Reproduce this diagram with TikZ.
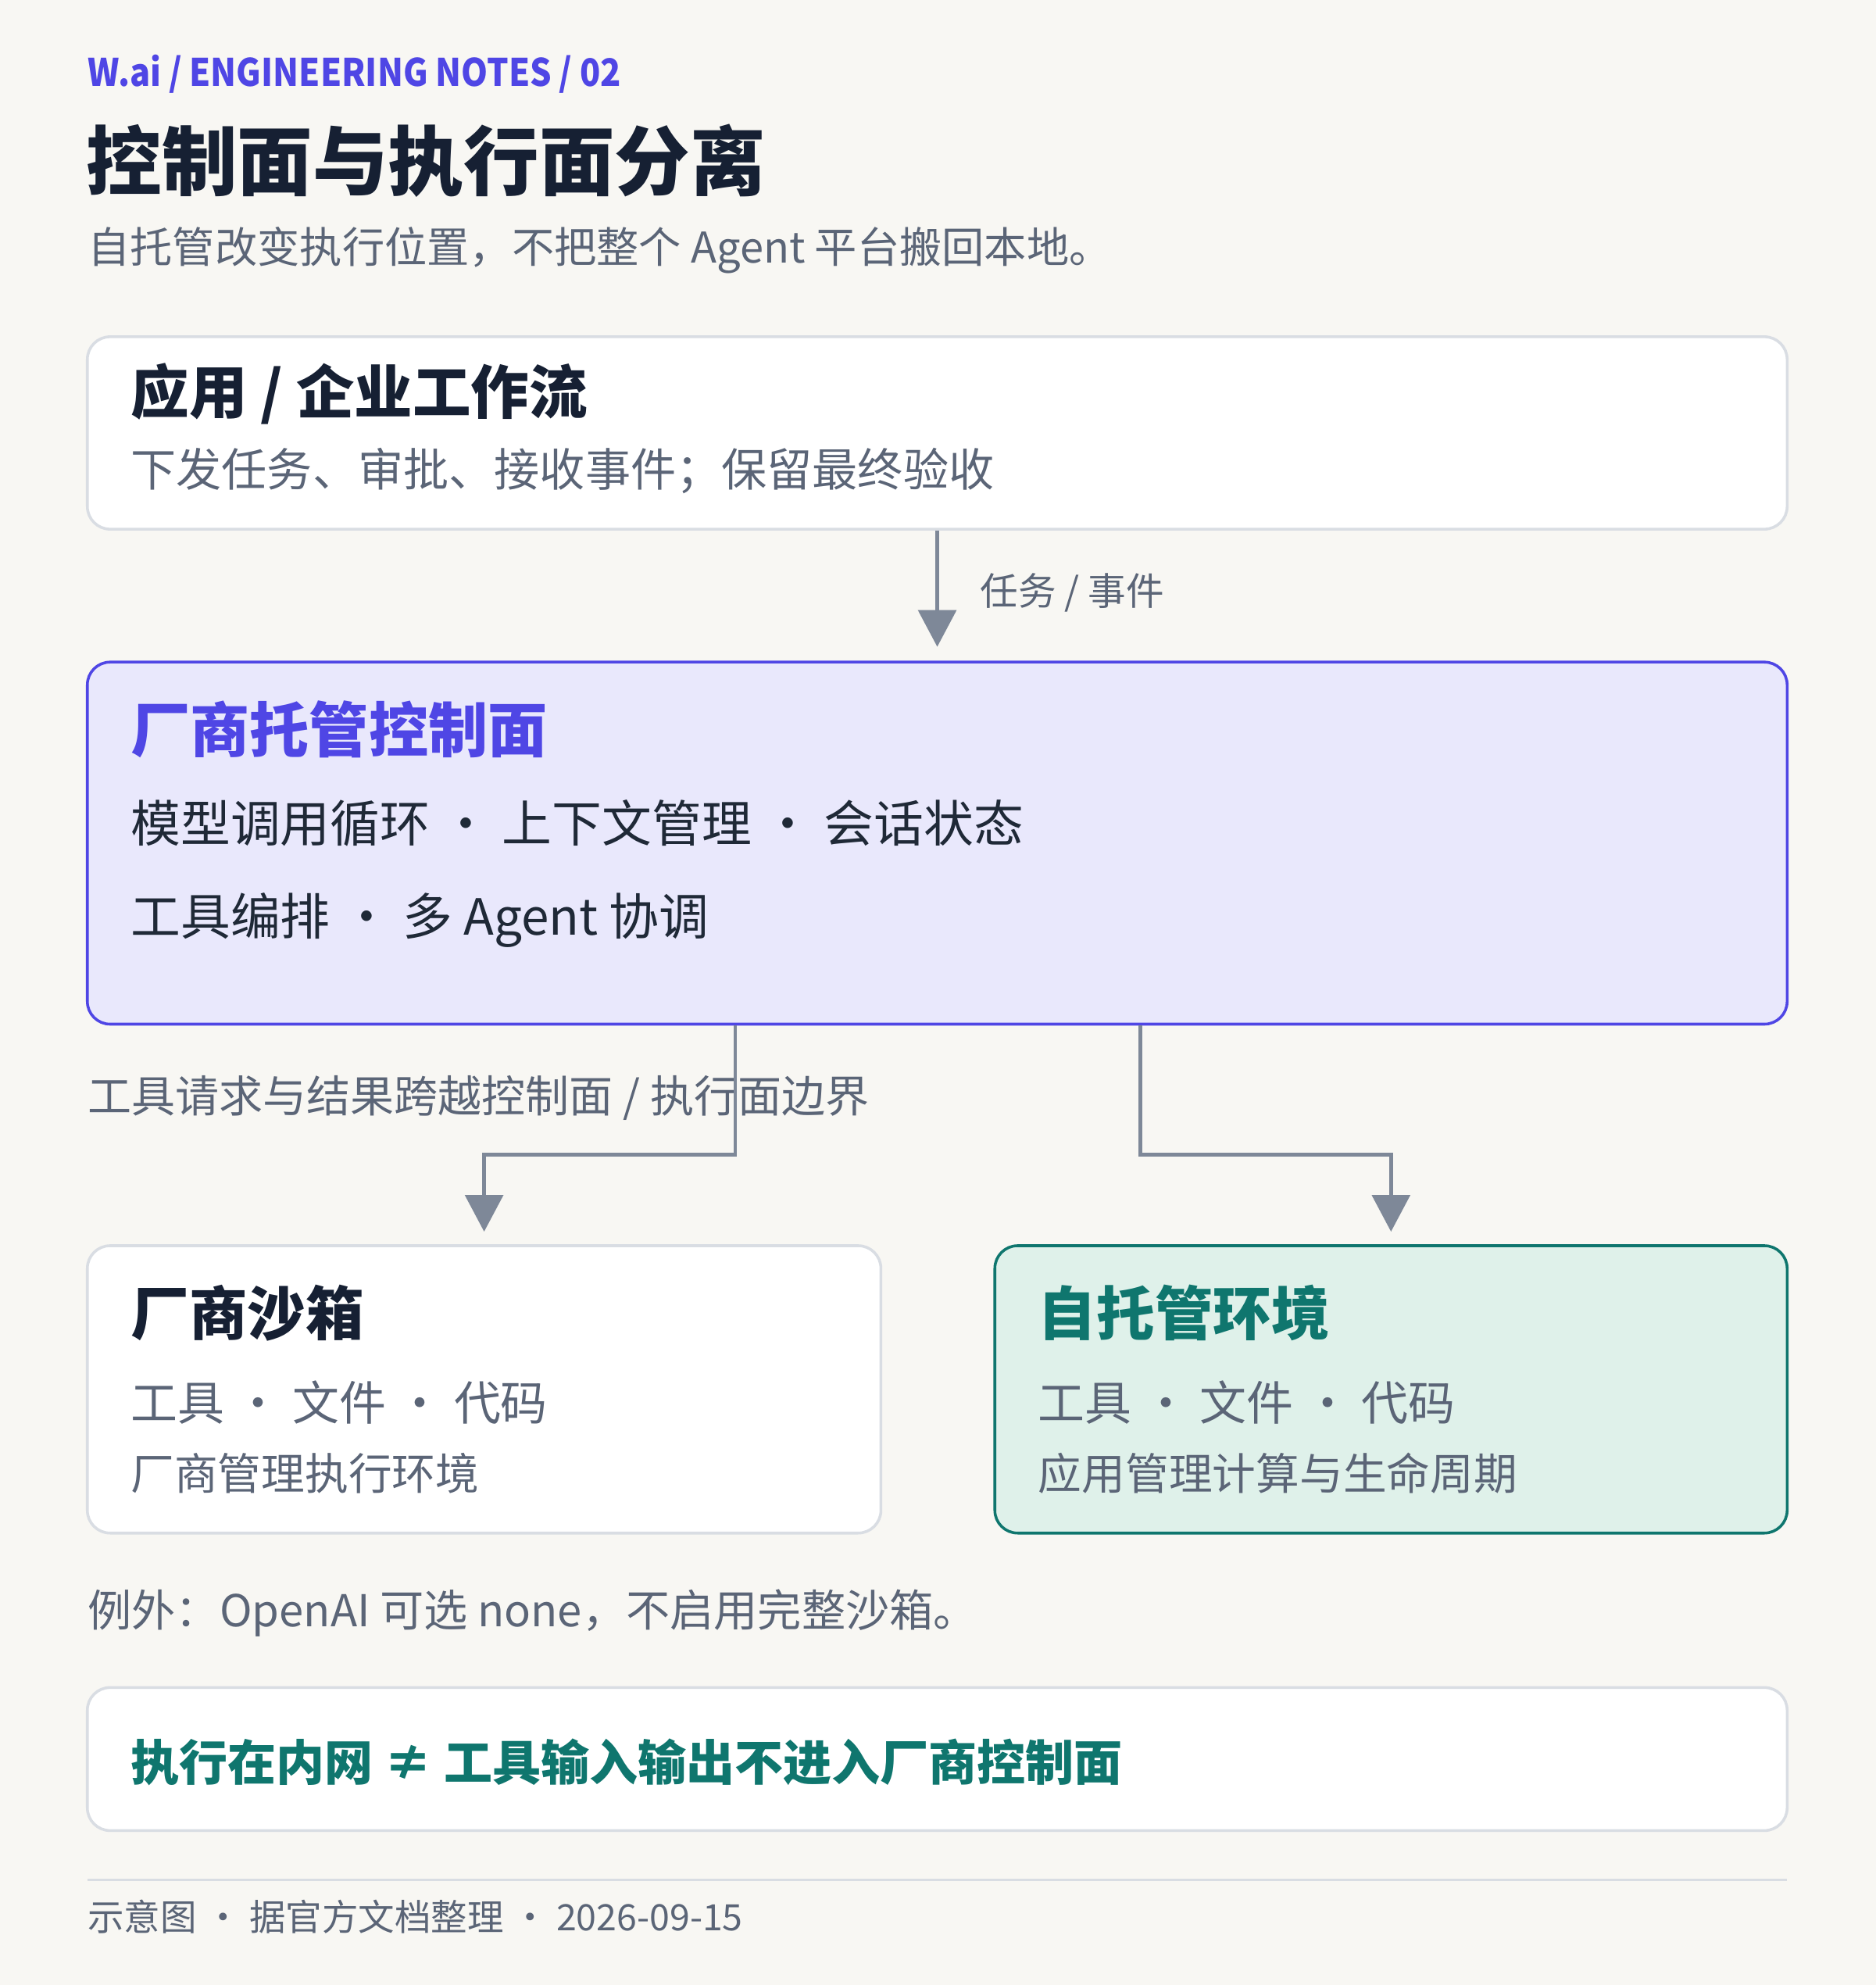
\documentclass[tikz,border=0pt]{standalone}
\usepackage{fontspec}
\setmainfont{Noto Sans CJK SC}
\newfontfamily\hdrfont{Noto Sans CJK SC}[FakeStretch=0.89]
\usetikzlibrary{arrows.meta}
\definecolor{bg}{HTML}{F8F7F3}
\definecolor{indigo}{HTML}{4F46E5}
\definecolor{indigofill}{HTML}{E9E8FC}
\definecolor{teal}{HTML}{0F766E}
\definecolor{tealfill}{HTML}{DFF1EA}
\definecolor{greytext}{HTML}{5B6577}
\definecolor{darktext}{HTML}{162033}
\definecolor{bodytext}{HTML}{1F2937}
\definecolor{arrowgrey}{HTML}{7E8898}
\definecolor{bordergrey}{HTML}{D9DDE3}
\newcommand\sepdot{\makebox[1.45em][c]{•}}
\newcommand\fs[1]{\fontsize{#1pt}{#1pt}\selectfont}
\tikzset{
  box/.style={draw=bordergrey, line width=1.1pt, fill=white, rounded corners=9pt, inner sep=0pt},
  ctrlbox/.style={box, draw=indigo, fill=indigofill},
  selfbox/.style={box, draw=teal, fill=tealfill},
  txt/.style={anchor=west, inner sep=0pt},
  arr/.style={draw=arrowgrey, line width=1.4pt, -{Triangle[length=14.5pt,width=15pt]}}
}
\begin{document}
\begin{tikzpicture}[x=0.5pt,y=-0.5pt]
\useasboundingbox[fill=bg] (0,0) rectangle (1482,1568);

% header
\node[anchor=base west, inner sep=0pt, text=indigo, font=\hdrfont\fs{15}\bfseries] (hdr) at (69,68) {W.ai / ENGINEERING NOTES / 02};
\node[txt, text=darktext, font=\fs{29.8}\bfseries] (title) at (68,127) {控制面与执行面分离};
\node[txt, text=greytext, font=\fs{16.75}] (sub) at (69,198) {自托管改变执行位置，不把整个 Agent 平台搬回本地。};

% boxes
\node[box, minimum width=671.5pt, minimum height=76pt] (b1) at (740.5,342) {};
\node[ctrlbox, minimum width=671.5pt, minimum height=143pt] (b2) at (740.5,666) {};
\node[box, minimum width=313.5pt, minimum height=113.5pt] (b3) at (382.5,1097.5) {};
\node[selfbox, minimum width=313pt, minimum height=113.5pt] (b4) at (1099,1097.5) {};
\node[box, minimum width=671.5pt, minimum height=56.5pt] (b5) at (740.5,1389.5) {};

% box 1
\node[txt, text=darktext, font=\fs{23}\bfseries] (b1t) at (103,311) {应用 / 企业工作流};
\node[txt, text=greytext, font=\fs{17.95}] (b1s) at (103,372) {下发任务、审批、接收事件；保留最终验收};

% box 2
\node[txt, text=indigo, font=\fs{23.5}\bfseries] (b2t) at (103,576) {厂商托管控制面};
\node[txt, text=bodytext, font=\fs{19.7}] (b2a) at (103,650) {模型调用循环\sepdot 上下文管理\sepdot 会话状态};
\node[txt, text=bodytext, font=\fs{19.7}] (b2b) at (103,727) {工具编排\sepdot 多 Agent 协调};

% box 3
\node[txt, text=darktext, font=\fs{23}\bfseries] (b3t) at (103,1037) {厂商沙箱};
\node[txt, text=greytext, font=\fs{18.5}] (b3a) at (103,1108) {工具\sepdot 文件\sepdot 代码};
\node[txt, text=greytext, font=\fs{17.2}] (b3b) at (103,1164) {厂商管理执行环境};

% box 4
\node[txt, text=teal, font=\fs{23}\bfseries] (b4t) at (820,1037) {自托管环境};
\node[txt, text=greytext, font=\fs{18.5}] (b4a) at (820,1108) {工具\sepdot 文件\sepdot 代码};
\node[txt, text=greytext, font=\fs{17.2}] (b4b) at (820,1164) {应用管理计算与生命周期};

% box 5
\node[txt, text=teal, font=\fs{19.15}\bfseries] (b5t) at (103,1392) {执行在内网 ≠ 工具输入输出不进入厂商控制面};

% labels
\node[txt, text=greytext, font=\fs{15}] (l1) at (774,468) {任务 / 事件};
\node[txt, text=greytext, font=\fs{17.3}] (l2) at (69,867) {工具请求与结果跨越控制面 / 执行面边界};
\node[txt, text=greytext, font=\fs{17.35}] (exc) at (69,1274) {例外：OpenAI 可选 none，不启用完整沙箱。};

% connectors
\coordinate (lx) at (581,0);
\coordinate (rx) at (901,0);
\draw[arr, shorten >=5.5pt] (b1.south) -- (b2.north);
\draw[arr, shorten >=5pt] (lx |- b2.south) -- ++(0,102) -| (b3.north);
\draw[arr, shorten >=5pt] (rx |- b2.south) -- ++(0,102) -| (b4.north);

% footer
\coordinate (fl) at (69,1485);
\coordinate (fr) at (1412,1485);
\draw[bordergrey, line width=0.8pt] (fl) -- (fr);
\node[txt, text=greytext, font=\fs{14.35}] (foot) at (69,1514) {示意图\sepdot 据官方文档整理\sepdot 2026-09-15};
\end{tikzpicture}
\end{document}
